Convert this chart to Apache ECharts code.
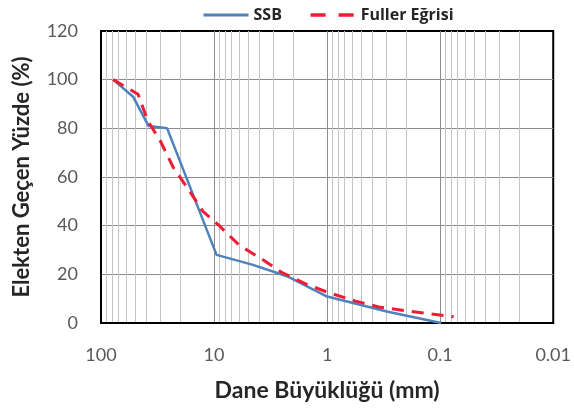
<!DOCTYPE html>
<html>
<head>
<meta charset="utf-8">
<script src="https://cdn.jsdelivr.net/npm/echarts@6/dist/echarts.min.js"></script>
<style>html,body{margin:0;padding:0;background:#fff}#c{width:574px;height:410px}</style>
</head>
<body>
<div id="c"></div>
<script>
// Sieve size (mm) and percent passing
const ssbSizes = [78, 52, 38, 26, 9.5, 4.6, 2.2, 1.02, 0.29, 0.098];
const ssbValues = [100, 93, 81, 80, 28, 24, 19, 11, 4.6, 0];
const fullerSizes = [78, 47, 38.5, 30, 23, 17.5, 12.6, 9, 6, 3.7, 2.5, 1.5, 0.96, 0.56, 0.35, 0.2, 0.12, 0.076];
const fullerValues = [100, 94, 83, 75, 64, 56, 46, 40, 32, 26, 20.7, 15.8, 12.4, 9, 6.6, 5, 3.7, 2.6];
const xTickLabels = {100: '100', 10: '10', 1: '1', 0.1: '0.1', 0.01: '0.01'};
const seriesNames = ['SSB', 'Fuller Eğrisi'];
const xTitle = 'Dane Büyüklüğü (mm)';
const yTitle = 'Elekten Geçen Yüzde (%)';

const pair = (xs, ys) => xs.map((x, i) => [x, ys[i]]);
const font = 'Lato, "Open Sans", sans-serif';
const chart = echarts.init(document.getElementById('c'), null, {renderer: 'canvas'});
chart.setOption({
  animation: false,
  legend: {
    left: 197, top: 2,
    itemWidth: 45, itemHeight: 14, itemGap: 27,
    itemStyle: {opacity: 0},
    textStyle: {fontFamily: '"Open Sans", sans-serif', fontWeight: 'bold', fontSize: 16, color: '#262626'},
    data: [
      {name: seriesNames[0], lineStyle: {width: 3}},
      {name: seriesNames[1], lineStyle: {type: [15, 13], width: 3.5}}
    ]
  },
  grid: {left: 101, right: 20, top: 31, bottom: 87, show: true, borderColor: '#000', borderWidth: 2},
  xAxis: {
    type: 'log', logBase: 10, min: 0.01, max: 100, inverse: true,
    name: xTitle, nameLocation: 'middle', nameGap: 56,
    nameTextStyle: {fontFamily: font, fontWeight: 'bold', fontSize: 23, color: '#262626'},
    axisLine: {show: true, lineStyle: {color: '#000', width: 2}},
    axisTick: {show: false},
    axisLabel: {margin: 23, fontFamily: font, fontSize: 18, color: '#595959',
      formatter: v => xTickLabels[v] !== undefined ? xTickLabels[v] : ''},
    splitLine: {show: true, showMinLine: false, showMaxLine: false, lineStyle: {color: '#8c8c8c', width: 1}},
    minorTick: {show: false, splitNumber: 9},
    minorSplitLine: {show: true, lineStyle: {color: '#c4c4c4', width: 1}}
  },
  yAxis: {
    type: 'value', min: 0, max: 120, interval: 20,
    name: yTitle, nameLocation: 'middle', nameGap: 68,
    nameTextStyle: {fontFamily: font, fontWeight: 'bold', fontSize: 22, color: '#262626'},
    axisLine: {show: true, lineStyle: {color: '#000', width: 2}},
    axisTick: {show: false},
    axisLabel: {margin: 23, fontFamily: font, fontSize: 18, color: '#595959'},
    splitLine: {show: true, showMinLine: false, showMaxLine: false, lineStyle: {color: '#8c8c8c', width: 1}}
  },
  series: [
    {name: seriesNames[0], type: 'line', data: pair(ssbSizes, ssbValues), symbol: 'none',
      color: '#4F81BD', lineStyle: {width: 2.5, color: '#4F81BD'}, z: 3},
    {name: seriesNames[1], type: 'line', data: pair(fullerSizes, fullerValues), symbol: 'none',
      color: '#EE1C34', lineStyle: {width: 3, color: '#EE1C34', type: [12, 8]}, z: 4}
  ]
});
</script>
</body>
</html>
